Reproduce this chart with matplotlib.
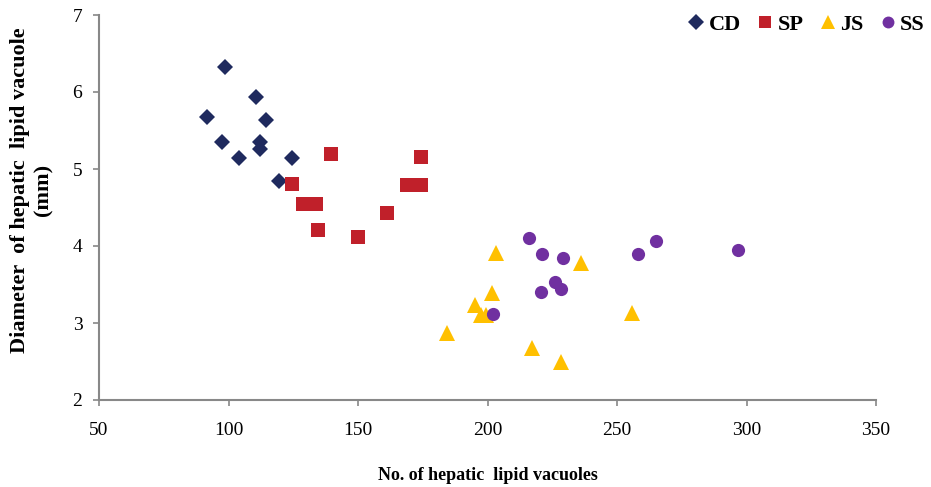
import matplotlib
matplotlib.use("Agg")
import matplotlib.pyplot as plt

cd_x = [98.8, 110.7, 91.7, 114.6, 97.5, 112.0, 112.0, 103.9, 124.6, 119.4]
cd_y = [6.33, 5.93, 5.67, 5.63, 5.35, 5.35, 5.26, 5.14, 5.14, 4.84]
sp_x = [139.7, 174.4, 124.6, 169.0, 174.4, 128.6, 133.6, 161.2, 134.7, 150.1]
sp_y = [5.19, 5.15, 4.81, 4.79, 4.79, 4.55, 4.55, 4.43, 4.21, 4.12]
js_x = [203.4, 236.2, 201.6, 195.2, 197.4, 199.3, 255.9, 184.5, 217.2, 228.2]
js_y = [3.91, 3.78, 3.39, 3.23, 3.10, 3.10, 3.13, 2.87, 2.68, 2.49]
ss_x = [216.1, 221.2, 229.3, 265.2, 258.3, 296.8, 226.0, 228.2, 220.6, 202.1]
ss_y = [4.10, 3.89, 3.84, 4.06, 3.89, 3.95, 3.53, 3.44, 3.40, 3.12]
x_ticks = [50, 100, 150, 200, 250, 300, 350]
y_ticks = [2, 3, 4, 5, 6, 7]

plt.rcParams['font.family'] = ['Liberation Serif', 'DejaVu Serif']

fig = plt.figure(figsize=(9.31, 4.87), dpi=100)
ax = fig.add_axes([99/931, 1-400/487, (876-99)/931, (400-15)/487])

ax.plot(cd_x, cd_y, 'D', color='#1F2A5E', markersize=8.6, markeredgewidth=0, label='CD', linestyle='none')
ax.plot(sp_x, sp_y, 's', color='#C0202A', markersize=10, markeredgewidth=0, label='SP', linestyle='none')
ax.plot(js_x, js_y, '^', color='#FFC000', markersize=11, markeredgewidth=0, label='JS', linestyle='none')
ax.plot(ss_x, ss_y, 'o', color='#7030A0', markersize=9.5, markeredgewidth=0, label='SS', linestyle='none')

ax.set_xlim(50, 350)
ax.set_ylim(2, 7)
ax.set_xticks(x_ticks)
ax.set_yticks(y_ticks)
ax.tick_params(direction='out', length=4, width=1.2, color='#888888', labelsize=14)
ax.tick_params(axis='x', pad=12)
ax.tick_params(axis='y', pad=8)
for s in ['top', 'right']:
    ax.spines[s].set_visible(False)
for s in ['left', 'bottom']:
    ax.spines[s].set_color('#888888')
    ax.spines[s].set_linewidth(1.5)

ax.set_xlabel('No. of hepatic  lipid vacuoles', fontsize=13, fontweight='bold', labelpad=20)
fig.text(32/931, 1-190/487, 'Diameter  of hepatic  lipid vacuole\n(mm)', rotation=90,
         ha='center', va='center', fontsize=16, fontweight='bold', linespacing=1.2, multialignment='center')

leg = ax.legend(loc='center right', bbox_to_anchor=(925/931, 1-25/487), bbox_transform=fig.transFigure,
                ncol=4, frameon=False, prop={'weight': 'bold', 'size': 16},
                handletextpad=0.1, columnspacing=0.65, handlelength=0.9, markerscale=0.9,
                borderaxespad=0, borderpad=0)

fig.savefig('out.png', dpi=100)
